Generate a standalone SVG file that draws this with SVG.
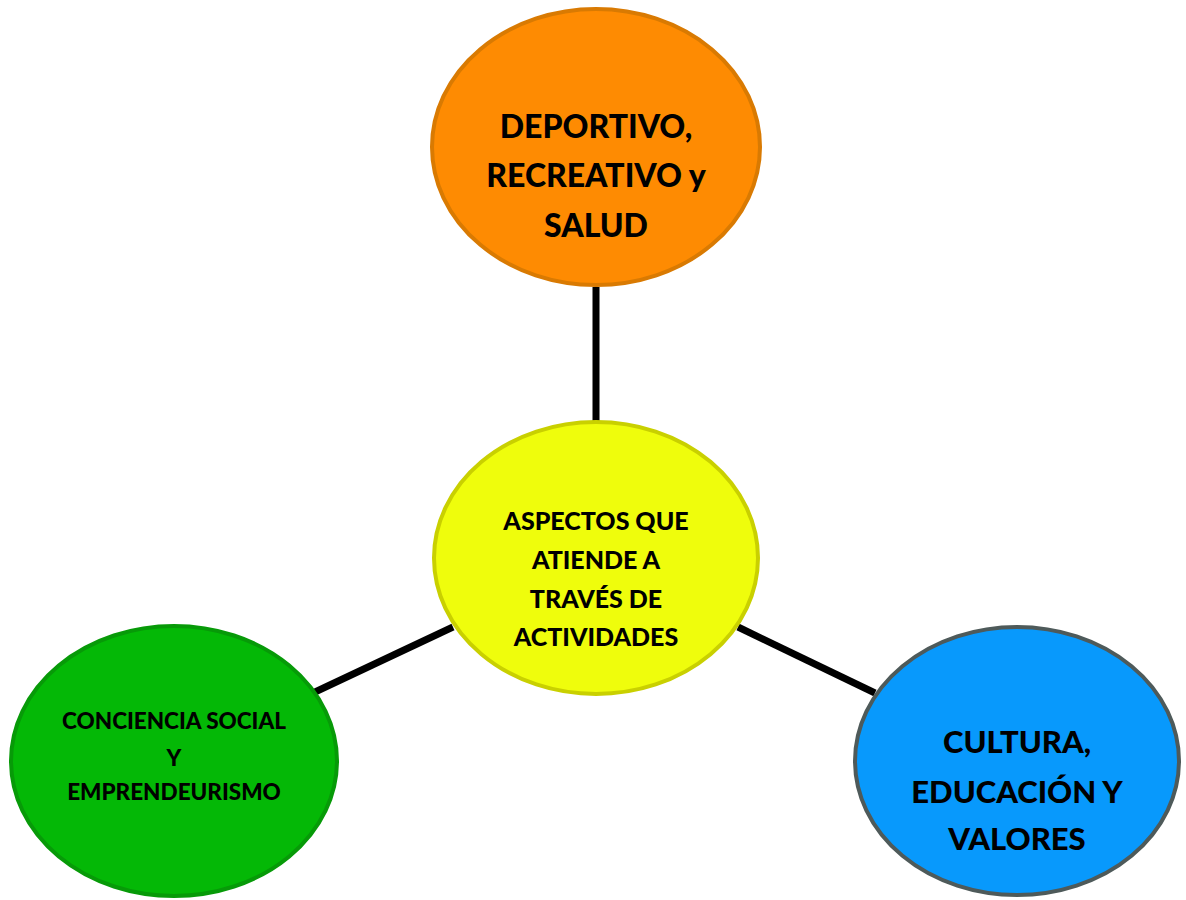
<svg xmlns="http://www.w3.org/2000/svg" width="1186" height="900" viewBox="0 0 1186 900">
<style>
.t{font-family:Lato,"Open Sans","Liberation Sans",sans-serif;font-weight:900;fill:#000;text-anchor:middle}
.c{stroke:#000;stroke-width:7;fill:none}
</style>
<rect width="1186" height="900" fill="#fff"/>
<g id="connectors">
<line class="c" x1="596" y1="287" x2="596" y2="421"/>
<line class="c" x1="315" y1="692" x2="453" y2="627"/>
<line class="c" x1="738" y1="627" x2="875" y2="693"/>
</g>
<g id="top">
<ellipse cx="596" cy="147" rx="164" ry="138" fill="#fe8b02" stroke="#d97a02" stroke-width="4"/>
<text class="t" font-size="32" x="596" y="138">DEPORTIVO,</text>
<text class="t" font-size="32" x="596" y="187">RECREATIVO y</text>
<text class="t" font-size="32" x="596" y="237">SALUD</text>
</g>
<g id="center">
<ellipse cx="596" cy="558" rx="162" ry="136" fill="#effd0c" stroke="#c9d000" stroke-width="4"/>
<text class="t" font-size="25" x="596" y="530">ASPECTOS QUE</text>
<text class="t" font-size="25" x="596" y="569">ATIENDE A</text>
<text class="t" font-size="25" x="596" y="608">TRAVÉS DE</text>
<text class="t" font-size="25" x="596" y="646">ACTIVIDADES</text>
</g>
<g id="left">
<ellipse cx="174" cy="761" rx="163" ry="135" fill="#04b806" stroke="#079a08" stroke-width="4"/>
<text class="t" font-size="22.5" x="174" y="729">CONCIENCIA SOCIAL</text>
<text class="t" font-size="22.5" x="174" y="766">Y</text>
<text class="t" font-size="22.5" x="174" y="800">EMPRENDEURISMO</text>
</g>
<g id="right">
<ellipse cx="1017" cy="761" rx="162" ry="134" fill="#0899fc" stroke="#4e5a5a" stroke-width="4"/>
<text class="t" font-size="31" x="1017" y="753">CULTURA,</text>
<text class="t" font-size="31" x="1017" y="803">EDUCACIÓN Y</text>
<text class="t" font-size="31" x="1017" y="850">VALORES</text>
</g>
</svg>
